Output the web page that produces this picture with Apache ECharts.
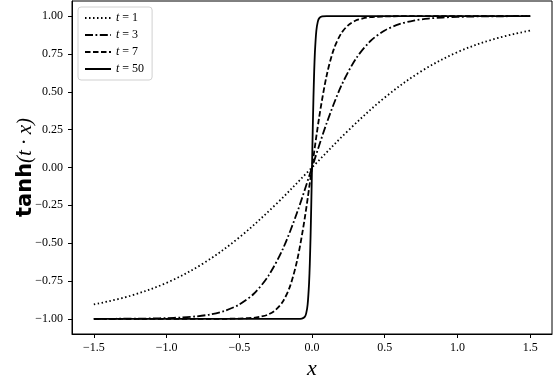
<!DOCTYPE html>
<html>
<head>
<meta charset="utf-8">
<script src="https://cdn.jsdelivr.net/npm/echarts@6/dist/echarts.min.js"></script>
<style>
  html, body { margin: 0; padding: 0; background: #fff; }
  #chart { width: 554px; height: 376px; }
</style>
</head>
<body>
<div id="chart"></div>
<script>
// values
var names = ['1', '3', '7', '50'];

var x1 = [-1.5, -1.25, -1.0, -0.75, -0.5, -0.25, 0, 0.25, 0.5, 0.75, 1.0, 1.25, 1.5];
var y1 = [-0.905, -0.848, -0.762, -0.635, -0.462, -0.245, 0, 0.245, 0.462, 0.635, 0.762, 0.848, 0.905];

var x3 = [-1.5, -1.4, -1.3, -1.2, -1.1, -1.0, -0.9, -0.8, -0.7, -0.6, -0.5, -0.4, -0.3, -0.2, -0.1, 0,
          0.1, 0.2, 0.3, 0.4, 0.5, 0.6, 0.7, 0.8, 0.9, 1.0, 1.1, 1.2, 1.3, 1.4, 1.5];
var y3 = [-1.0, -1.0, -0.999, -0.999, -0.997, -0.995, -0.991, -0.984, -0.971, -0.947, -0.905, -0.834, -0.716, -0.537, -0.291, 0,
          0.291, 0.537, 0.716, 0.834, 0.905, 0.947, 0.971, 0.984, 0.991, 0.995, 0.997, 0.999, 0.999, 1.0, 1.0];

var x7 = [-1.5, -1.0, -0.7, -0.6, -0.55, -0.5, -0.45, -0.4, -0.35, -0.3, -0.25, -0.2, -0.15, -0.1, -0.05, 0,
          0.05, 0.1, 0.15, 0.2, 0.25, 0.3, 0.35, 0.4, 0.45, 0.5, 0.55, 0.6, 0.7, 1.0, 1.5];
var y7 = [-1.0, -1.0, -1.0, -1.0, -0.999, -0.998, -0.996, -0.993, -0.985, -0.971, -0.941, -0.885, -0.782, -0.604, -0.336, 0,
          0.336, 0.604, 0.782, 0.885, 0.941, 0.971, 0.985, 0.993, 0.996, 0.998, 0.999, 1.0, 1.0, 1.0, 1.0];

var x50 = [-1.5, -0.1, -0.07, -0.05, -0.04, -0.03, -0.02, -0.015, -0.01, -0.005, 0,
           0.005, 0.01, 0.015, 0.02, 0.03, 0.04, 0.05, 0.07, 0.1, 1.5];
var y50 = [-1.0, -1.0, -0.998, -0.987, -0.964, -0.905, -0.762, -0.635, -0.462, -0.245, 0,
           0.245, 0.462, 0.635, 0.762, 0.905, 0.964, 0.987, 0.998, 1.0, 1.0];

var xTicks = [-1.5, -1.0, -0.5, 0.0, 0.5, 1.0, 1.5];
var yTicks = [-1.0, -0.75, -0.5, -0.25, 0.0, 0.25, 0.5, 0.75, 1.0];

function pairs(xs, ys) {
  var out = [];
  for (var i = 0; i < xs.length; i++) out.push([xs[i], ys[i]]);
  return out;
}
function minus(s) { return s.replace('-', '\u2212'); }

var serif = 'Liberation Serif';
var dashes = [[1.5, 2.5], [8, 2.5, 1.8, 2.5], [5.5, 2.5], 'solid'];
var smooths = [0.35, 0.3, 0.3, 0.2];
var sets = [pairs(x1, y1), pairs(x3, y3), pairs(x7, y7), pairs(x50, y50)];

var series = names.map(function (n, i) {
  return {
    name: n,
    type: 'line',
    data: sets[i],
    smooth: smooths[i],
    showSymbol: false,
    symbol: 'none',
    silent: true,
    lineStyle: { color: '#000', width: 1.8, type: dashes[i], cap: 'butt' },
    itemStyle: { color: '#000' }
  };
});

var chart = echarts.init(document.getElementById('chart'), null, { renderer: 'canvas' });
chart.setOption({
  animation: false,
  grid: {
    left: 72, right: 2, top: 1, bottom: 42,
    outerBoundsMode: 'none',
    show: true, borderColor: '#000', borderWidth: 1
  },
  legend: {
    left: 78, top: 7,
    orient: 'vertical',
    itemWidth: 26, itemHeight: 10, itemGap: 5,
    padding: [5, 8, 5, 6],
    borderColor: '#d0d0d0', borderWidth: 1, borderRadius: 3,
    backgroundColor: '#fff',
    itemStyle: { opacity: 0 },
    formatter: function (n) { return '{i|t} = ' + n; },
    textStyle: {
      fontFamily: serif, fontSize: 12, color: '#000',
      rich: { i: { fontFamily: serif, fontStyle: 'italic', fontSize: 12, color: '#000' } }
    },
    data: names
  },
  xAxis: {
    type: 'value', min: -1.65, max: 1.65,
    name: 'x', nameLocation: 'middle', nameGap: 24, nameMoveOverlap: false,
    nameTextStyle: { fontFamily: serif, fontStyle: 'italic', fontSize: 22, color: '#000' },
    axisLine: { show: true, onZero: false, lineStyle: { color: '#000', width: 1 } },
    axisTick: { show: true, length: 4, customValues: xTicks, lineStyle: { color: '#000' } },
    axisLabel: {
      customValues: xTicks, margin: 8,
      fontFamily: serif, fontSize: 12, color: '#000',
      formatter: function (v) { return minus(v.toFixed(1)); }
    },
    splitLine: { show: false }
  },
  yAxis: {
    type: 'value', min: -1.1, max: 1.1,
    name: '{b|tanh}{i|(t · x)}', nameLocation: 'middle', nameGap: 36, nameMoveOverlap: false,
    nameTextStyle: {
      rich: {
        b: { fontFamily: 'DejaVu Sans', fontWeight: 'bold', fontSize: 21, color: '#000' },
        i: { fontFamily: serif, fontStyle: 'italic', fontSize: 21, color: '#000' }
      }
    },
    axisLine: { show: true, onZero: false, lineStyle: { color: '#000', width: 1 } },
    axisTick: { show: true, length: 4, customValues: yTicks, lineStyle: { color: '#000' } },
    axisLabel: {
      customValues: yTicks, margin: 9,
      fontFamily: serif, fontSize: 12, color: '#000',
      formatter: function (v) { return minus(v.toFixed(2)); }
    },
    splitLine: { show: false }
  },
  series: series
});
</script>
</body>
</html>
